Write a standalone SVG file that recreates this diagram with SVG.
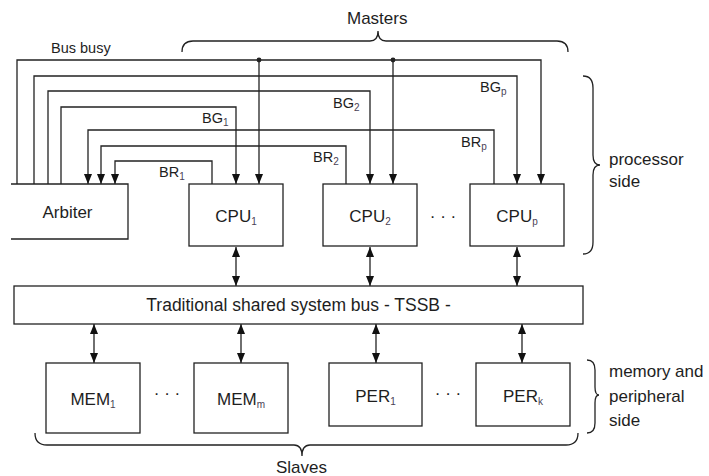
<svg xmlns="http://www.w3.org/2000/svg" width="709" height="476" viewBox="0 0 709 476">
<defs>
<style>
.ln{fill:none;stroke:#222;stroke-width:1.3}
.bx{fill:#fff;stroke:#222;stroke-width:1.3}
.t{font-family:"Liberation Sans",Arial,sans-serif;fill:#1e1e1e}
.big{font-size:17px}
.sm{font-size:14.5px}
.sub{font-size:10px;fill:#4a3f55}
.dot{fill:#222}
</style>
<marker id="ah" viewBox="0 0 10 8" refX="10" refY="4" markerWidth="10" markerHeight="8" markerUnits="userSpaceOnUse" orient="auto-start-reverse"><path d="M0,0 L10,4 L0,8 z" fill="#111"/></marker>
</defs>
<rect width="709" height="476" fill="#fff"/>

<g id="connectors">
<path class="ln" d="M17,184 V60 H541 V184" marker-end="url(#ah)"/>
<path class="ln" d="M259,60 V184" marker-end="url(#ah)"/>
<path class="ln" d="M393,60 V184" marker-end="url(#ah)"/>
<circle class="dot" cx="259" cy="60" r="2.4"/>
<circle class="dot" cx="393" cy="60" r="2.4"/>
<path class="ln" d="M34,184 V76 H517 V184" marker-end="url(#ah)"/>
<path class="ln" d="M48,184 V91 H370 V184" marker-end="url(#ah)"/>
<path class="ln" d="M61,184 V107 H236 V184" marker-end="url(#ah)"/>
<path class="ln" d="M494,184 V130 H88 V184" marker-end="url(#ah)"/>
<path class="ln" d="M346,184 V146 H101 V184" marker-end="url(#ah)"/>
<path class="ln" d="M212,184 V161 H115 V184" marker-end="url(#ah)"/>
<path class="ln" d="M236,247 V286" marker-start="url(#ah)" marker-end="url(#ah)"/>
<path class="ln" d="M370,247 V286" marker-start="url(#ah)" marker-end="url(#ah)"/>
<path class="ln" d="M517,247 V286" marker-start="url(#ah)" marker-end="url(#ah)"/>
<path class="ln" d="M94,324 V363" marker-start="url(#ah)" marker-end="url(#ah)"/>
<path class="ln" d="M241,324 V363" marker-start="url(#ah)" marker-end="url(#ah)"/>
<path class="ln" d="M376,324 V363" marker-start="url(#ah)" marker-end="url(#ah)"/>
<path class="ln" d="M522,324 V363" marker-start="url(#ah)" marker-end="url(#ah)"/>
</g>

<g id="labels">
<text class="t sm" x="51" y="53">Bus busy</text>
<text class="t sm" x="202" y="123">BG<tspan class="sub" dy="3">1</tspan></text>
<text class="t sm" x="159" y="177">BR<tspan class="sub" dy="3">1</tspan></text>
<text class="t sm" x="333" y="108">BG<tspan class="sub" dy="3">2</tspan></text>
<text class="t sm" x="313" y="162">BR<tspan class="sub" dy="3">2</tspan></text>
<text class="t sm" x="480" y="92">BG<tspan class="sub" dy="3">p</tspan></text>
<text class="t sm" x="461" y="147">BR<tspan class="sub" dy="3">p</tspan></text>
</g>

<g id="arbiter">
<path class="ln" d="M11,184 H128 V239 H11"/>
<text class="t big" x="67.5" y="218" text-anchor="middle">Arbiter</text>
</g>
<g id="cpu1">
<rect class="bx" x="189" y="184" width="94" height="62"/>
<text class="t big" x="236" y="222" text-anchor="middle">CPU<tspan class="sub" dy="3">1</tspan></text>
</g>
<g id="cpu2">
<rect class="bx" x="323" y="184" width="94" height="62"/>
<text class="t big" x="370" y="222" text-anchor="middle">CPU<tspan class="sub" dy="3">2</tspan></text>
</g>
<g id="cpup">
<rect class="bx" x="470" y="184" width="94" height="62"/>
<text class="t big" x="517" y="222" text-anchor="middle">CPU<tspan class="sub" dy="3">p</tspan></text>
</g>
<text class="t big" x="443" y="222" text-anchor="middle">· · ·</text>

<g id="tssb">
<rect class="bx" x="14" y="286" width="569" height="38"/>
<text class="t" font-size="17.5" x="298.5" y="311" text-anchor="middle">Traditional shared system bus - TSSB -</text>
</g>

<g id="mem1">
<rect class="bx" x="46" y="363" width="94" height="70"/>
<text class="t big" x="93" y="405" text-anchor="middle">MEM<tspan class="sub" dy="3">1</tspan></text>
</g>
<text class="t big" x="167" y="399" text-anchor="middle">· · ·</text>
<g id="memm">
<rect class="bx" x="194" y="363" width="94" height="70"/>
<text class="t big" x="241" y="405" text-anchor="middle">MEM<tspan class="sub" dy="3">m</tspan></text>
</g>
<g id="per1">
<rect class="bx" x="329" y="363" width="93" height="63"/>
<text class="t big" x="375.5" y="402" text-anchor="middle">PER<tspan class="sub" dy="3">1</tspan></text>
</g>
<text class="t big" x="448" y="399" text-anchor="middle">· · ·</text>
<g id="perk">
<rect class="bx" x="476" y="363" width="94" height="63"/>
<text class="t big" x="523" y="402" text-anchor="middle">PER<tspan class="sub" dy="3">k</tspan></text>
</g>

<g id="braces">
<path class="ln" d="M182,52 Q182,41 193,41 H370 Q378,41 378,31 Q378,41 386,41 H557 Q568,41 568,52"/>
<path class="ln" d="M583,76 Q593,76 593,88 V155 Q593,165 600,165 Q593,165 593,175 V242 Q593,254 583,254"/>
<path class="ln" d="M587,360 Q595,360 595,370 V387 Q595,395 599,395 Q595,395 595,403 V423 Q595,433 587,433"/>
<path class="ln" d="M35,433 Q35,445 47,445 H294 Q302,445 302,456 Q302,445 310,445 H566 Q578,445 578,433"/>
</g>

<g id="side-labels">
<text class="t big" x="347" y="24">Masters</text>
<text class="t big" x="609" y="165">processor</text>
<text class="t big" x="609" y="187">side</text>
<text class="t big" x="609" y="377">memory and</text>
<text class="t big" x="609" y="402">peripheral</text>
<text class="t big" x="609" y="426">side</text>
<text class="t big" x="276" y="473">Slaves</text>
</g>
</svg>
